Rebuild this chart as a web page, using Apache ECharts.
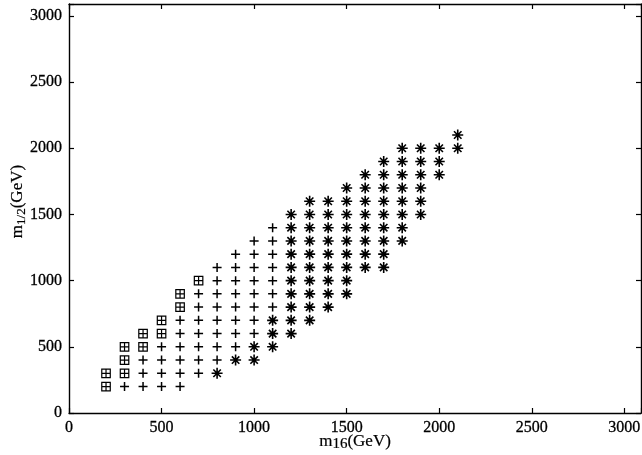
<!DOCTYPE html>
<html>
<head>
<meta charset="utf-8">
<script src="https://cdn.jsdelivr.net/npm/echarts@6/dist/echarts.min.js"></script>
<style>
html,body{margin:0;padding:0;background:#fff;}
#chart{width:642px;height:455px;}
</style>
</head>
<body>
<div id="chart"></div>
<script>
// Axis ticks
const xTicks = [0, 500, 1000, 1500, 2000, 2500, 3000];
const yTicks = [0, 500, 1000, 1500, 2000, 2500, 3000];

// Boxed-plus points: columns (m16) and their m1/2 values
const boxedX = [200, 300, 400, 500, 600, 700];
const boxedY = [
  [200, 300],
  [300, 400, 500],
  [500, 600],
  [600, 700],
  [800, 900],
  [1000]
];

// Plus points
const plusX = [300, 400, 500, 600, 700, 800, 900, 1000, 1100];
const plusY = [
  [200],
  [200, 300, 400],
  [200, 300, 400, 500],
  [200, 300, 400, 500, 600, 700],
  [300, 400, 500, 600, 700, 800, 900],
  [400, 500, 600, 700, 800, 900, 1000, 1100],
  [500, 600, 700, 800, 900, 1000, 1100, 1200],
  [600, 700, 800, 900, 1000, 1100, 1200, 1300],
  [800, 900, 1000, 1100, 1200, 1300, 1400]
];

// Asterisk points
const starX = [800, 900, 1000, 1100, 1200, 1300, 1400, 1500, 1600, 1700, 1800, 1900, 2000, 2100];
const starY = [
  [300],
  [400],
  [400, 500],
  [500, 600, 700],
  [600, 700, 800, 900, 1000, 1100, 1200, 1300, 1400, 1500],
  [700, 800, 900, 1000, 1100, 1200, 1300, 1400, 1500, 1600],
  [800, 900, 1000, 1100, 1200, 1300, 1400, 1500, 1600],
  [900, 1000, 1100, 1200, 1300, 1400, 1500, 1600, 1700],
  [1100, 1200, 1300, 1400, 1500, 1600, 1700, 1800],
  [1100, 1200, 1300, 1400, 1500, 1600, 1700, 1800, 1900],
  [1300, 1400, 1500, 1600, 1700, 1800, 1900, 2000],
  [1500, 1600, 1700, 1800, 1900, 2000],
  [1800, 1900, 2000],
  [2000, 2100]
];

function toPoints(xs, ys) {
  const out = [];
  xs.forEach((x, i) => ys[i].forEach(y => out.push([x, y])));
  return out;
}

const FONT = 'Liberation Serif';
const AX_MAX = 3090;
const tickFmt = v => (xTicks.indexOf(v) >= 0 ? String(v) : '');
const tickFmtY = v => (yTicks.indexOf(v) >= 0 ? String(v) : '');

const labelStyle = {
  color: '#000', fontFamily: FONT, fontSize: 16, margin: 7,
  textBorderColor: '#000', textBorderWidth: 0.3
};

const axisCommon = {
  type: 'value',
  min: 0,
  max: AX_MAX,
  interval: 500,
  splitLine: { show: false },
  axisLine: { show: true, onZero: false, lineStyle: { color: '#000', width: 1.4 } },
  axisTick: { show: true, inside: true, length: 5, lineStyle: { color: '#000', width: 1.2 } }
};

const plusPath = 'path://M0,5L10,5M5,0L5,10';
const boxPath = 'path://M0,0L10,0L10,10L0,10ZM0,5L10,5M5,0L5,10';
const starPath = 'path://M0,5L10,5M5,0L5,10M1.6,1.6L8.4,8.4M8.4,1.6L1.6,8.4';

function markStyle(w) {
  return { color: 'transparent', borderColor: '#000', borderWidth: w, opacity: 1 };
}

const nameRich = {
  m: { fontFamily: FONT, fontSize: 17, color: '#000', lineHeight: 20, verticalAlign: 'middle', textBorderColor: '#000', textBorderWidth: 0.2 },
  g: { fontFamily: FONT, fontSize: 17, color: '#000', lineHeight: 20, verticalAlign: 'middle', textBorderColor: '#000', textBorderWidth: 0.2 }
};

const chart = echarts.init(document.getElementById('chart'), null, { renderer: 'canvas' });
chart.setOption({
  animation: false,
  backgroundColor: '#fff',
  grid: { left: 69, right: 1, top: 4, bottom: 42, containLabel: false, outerBoundsMode: 'none' },
  xAxis: [
    Object.assign({}, axisCommon, {
      position: 'bottom',
      axisLabel: Object.assign({ formatter: tickFmt }, labelStyle),
      name: '{m|m}{s|16}{g|(GeV)}',
      nameLocation: 'middle',
      nameMoveOverlap: false,
      nameGap: 19,
      nameTextStyle: {
        rich: Object.assign({
          s: { fontFamily: FONT, fontSize: 15, color: '#000', lineHeight: 11, verticalAlign: 'bottom', textBorderColor: '#000', textBorderWidth: 0.2 }
        }, nameRich)
      }
    }),
    Object.assign({}, axisCommon, {
      position: 'top',
      axisLabel: { show: false }
    })
  ],
  yAxis: [
    Object.assign({}, axisCommon, {
      position: 'left',
      axisLabel: Object.assign({ formatter: tickFmtY }, labelStyle),
      name: '{m|m}{s|1/2}{g|(GeV)}',
      nameLocation: 'middle',
      nameMoveOverlap: false,
      nameGap: 41,
      nameTextStyle: {
        padding: [0, 0, 0, 14],
        rich: Object.assign({
          s: { fontFamily: FONT, fontSize: 13, color: '#000', lineHeight: 10, verticalAlign: 'bottom', textBorderColor: '#000', textBorderWidth: 0.2 }
        }, nameRich)
      }
    }),
    Object.assign({}, axisCommon, {
      position: 'right',
      axisLabel: { show: false }
    })
  ],
  series: [
    {
      type: 'scatter',
      symbol: boxPath,
      symbolSize: 8.5,
      itemStyle: markStyle(1.2),
      emphasis: { disabled: true },
      data: toPoints(boxedX, boxedY)
    },
    {
      type: 'scatter',
      symbol: plusPath,
      symbolSize: 9,
      itemStyle: markStyle(1.5),
      emphasis: { disabled: true },
      data: toPoints(plusX, plusY)
    },
    {
      type: 'scatter',
      symbol: starPath,
      symbolSize: 11,
      itemStyle: markStyle(1.6),
      emphasis: { disabled: true },
      data: toPoints(starX, starY)
    }
  ]
});
</script>
</body>
</html>
